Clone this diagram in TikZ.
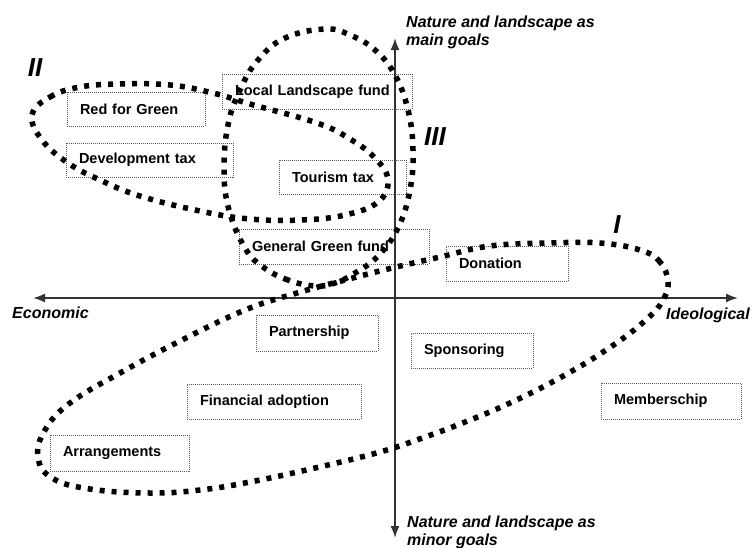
\documentclass[tikz,border=0pt]{standalone}
\usepackage{fontspec}
\setmainfont{Liberation Sans}
\usetikzlibrary{arrows.meta}
\begin{document}
\begin{tikzpicture}[x=1pt,y=-1pt,
  tag/.style={draw=black!65, dash pattern=on 1pt off 1pt, line width=0.9pt,
    font=\fontsize{14.5}{16}\selectfont\bfseries, align=left,
    inner xsep=13pt, inner ysep=0pt},
  axisline/.style={draw=black!80, line width=1.8pt,
    {Latex[length=12pt,width=9pt]}-{Latex[length=12pt,width=9pt]}},
  axislbl/.style={font=\fontsize{16}{18}\selectfont\bfseries\itshape, inner sep=0pt},
  numeral/.style={font=\fontsize{26}{28}\selectfont\bfseries\itshape, inner sep=0pt},
  ringdots/.style={line width=5.5pt, dash pattern=on 5pt off 7pt, black}
]
\useasboundingbox (0,0) rectangle (753,547);

% instruments
\node[tag, text width=112pt, minimum height=34pt] (redgreen)   at (136,109)   {Red for Green};
\node[tag, text width=141pt, minimum height=34pt] (devtax)     at (149.5,160) {Development tax};
\node[tag, text width=164pt, minimum height=35pt] (localfund)  at (317,91.5)  {Local Landscape fund};
\node[tag, text width=101pt, minimum height=34pt] (tourism)    at (342.5,177) {Tourism tax};
\node[tag, text width=164pt, minimum height=35pt] (greenfund)  at (334,246.5) {General Green fund};
\node[tag, text width=96pt,  minimum height=35pt] (donation)   at (507,263.5) {Donation};
\node[tag, text width=96pt,  minimum height=36pt] (partner)    at (317,333)   {Partnership};
\node[tag, text width=96pt,  minimum height=35pt] (sponsor)    at (472,350.5) {Sponsoring};
\node[tag, text width=148pt, minimum height=35pt] (finadopt)   at (274,401.5) {Financial adoption};
\node[tag, text width=113pt, minimum height=36pt] (arrange)    at (119.5,453) {Arrangements};
\node[tag, text width=114pt, minimum height=36pt] (member)     at (671,401)   {Memberschip};

% axes
\coordinate (ytop) at (395,38);
\coordinate (ybot) at (395,538);
\coordinate (xleft) at (33,298);
\coordinate (xright) at (738,298);
\draw[axisline] (xleft) -- (xright);
\draw[axisline] (ybot) -- (ytop);

\node[axislbl, anchor=base west] (econ) at (12,318) {Economic};
\node[axislbl, anchor=base west] (ideo) at (666,319) {Ideological};
\node[axislbl, anchor=base west] (topa) at (406,27) {Nature and landscape as};
\node[axislbl, anchor=base west] (topb) at (406,45) {main goals};
\node[axislbl, anchor=base west] (bota) at (407,527) {Nature and landscape as};
\node[axislbl, anchor=base west] (botb) at (407,545) {minor goals};

% clusters
\draw[ringdots] plot[smooth cycle, tension=0.7] coordinates {
  (32,115) (50,97) (80,87) (120,84) (170,85) (213,93) (250,104) (317,123)
  (350,139) (375,158) (388,180) (378,202) (345,215) (300,220) (250,219)
  (200,211) (140,196) (100,180) (68,163) (42,140)};
\draw[ringdots] plot[smooth cycle, tension=0.7] coordinates {
  (315,286) (288,280) (263,267) (245,248) (229,210) (224,170) (228,125)
  (240,90) (258,60) (285,38) (325,29) (350,35) (375,50) (395,75) (408,110)
  (413,150) (410,190) (398,228) (378,256) (355,273) (335,283)};
\draw[ringdots] plot[smooth cycle, tension=0.7] coordinates {
  (668,282) (660,262) (640,250) (600,243) (550,243) (490,246) (440,257)
  (392,268) (345,280) (297,293) (245,310) (180,341) (120,373) (70,403)
  (45,430) (38,457) (52,478) (90,489) (150,493) (200,490) (250,482)
  (315,468) (380,452) (425,437) (460,424) (510,403) (565,375) (615,344)
  (648,318) (663,300)};

\node[numeral] (nII)  at (35,68)   {II};
\node[numeral] (nIII) at (435,137) {III};
\node[numeral] (nI)   at (617,225) {I};
\end{tikzpicture}
\end{document}
